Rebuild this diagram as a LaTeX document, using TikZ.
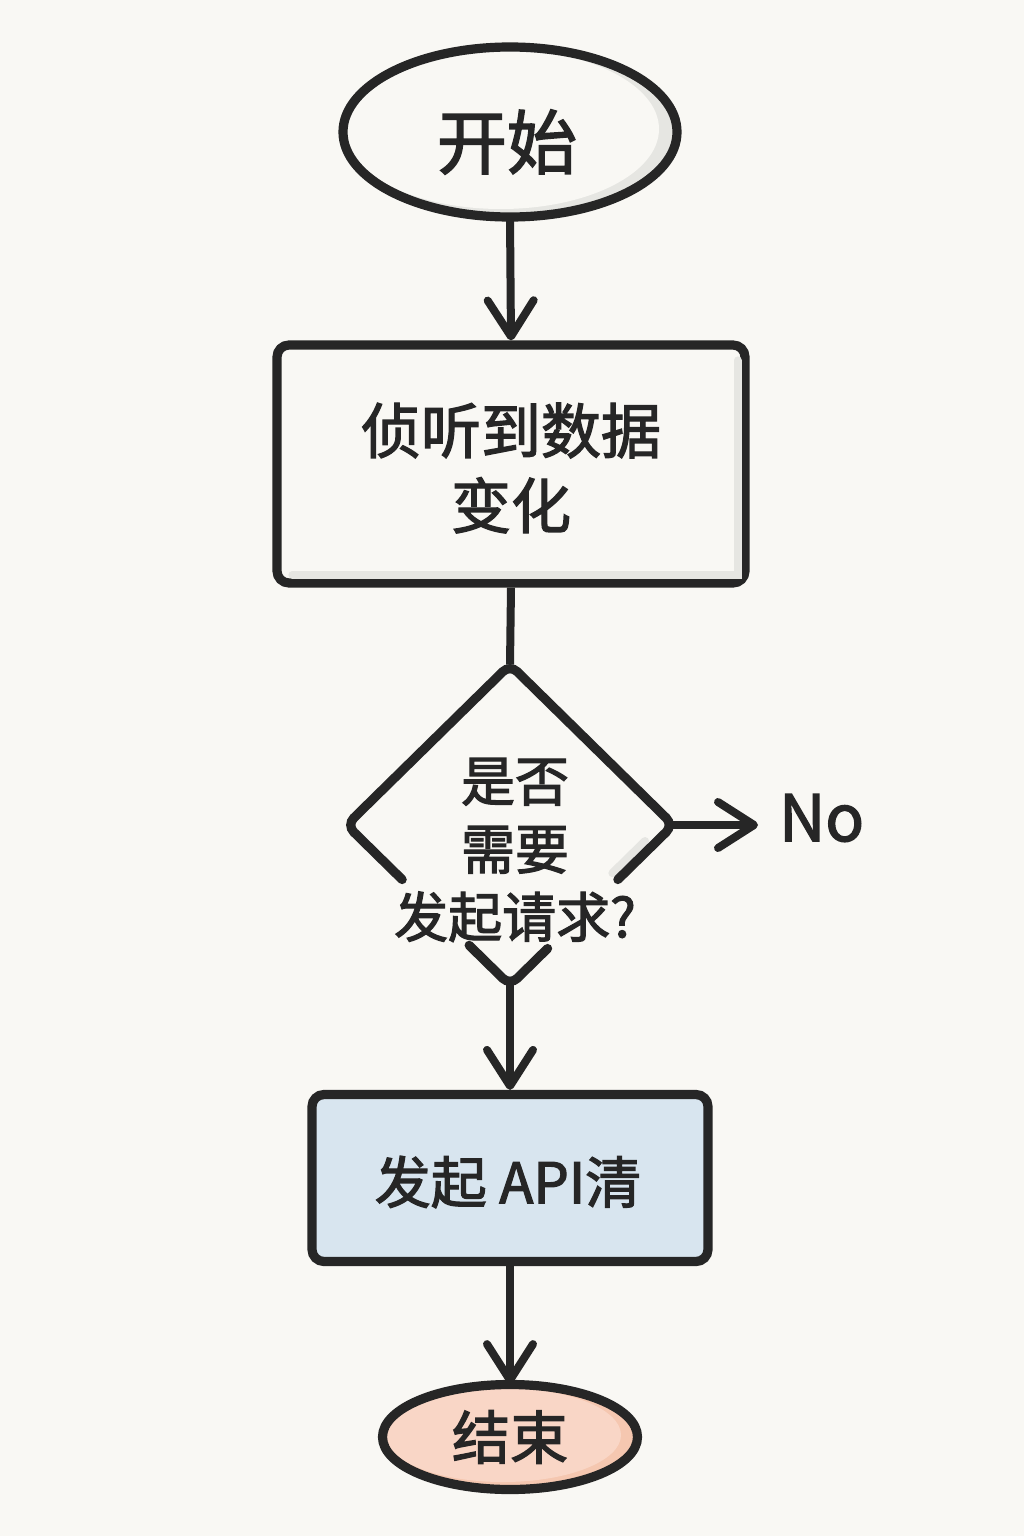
\documentclass[tikz,border=0pt]{standalone}
\usepackage{fontspec}
\newfontfamily\cjk[UprightFeatures={FakeBold=2.2}]{Noto Sans CJK SC}
\usetikzlibrary{shapes.geometric,arrows.meta,calc}
\definecolor{bgc}{HTML}{F9F8F4}
\definecolor{inkc}{HTML}{262626}
\definecolor{bluefill}{HTML}{D8E5EF}
\definecolor{peachfill}{HTML}{F9D6C6}
\definecolor{peachdark}{HTML}{F5C7B0}
\definecolor{shadowc}{HTML}{E6E6E2}
\begin{document}
\begin{tikzpicture}[x=0.5pt,y=-0.5pt,
  outline/.style={draw=inkc, line width=4.6pt},
  conn/.style={draw=inkc, line width=4pt},
  tip/.style={-{Straight Barb[length=18pt,width=23pt,round]}},
  lbl/.style={text=inkc, font=\cjk},
  shade/.style={draw=shadowc, line width=4pt, line cap=round}
]
\fill[bgc] (0,0) rectangle (1024,1536);
\useasboundingbox (0,0) rectangle (1024,1536);

% start
\node[ellipse, fill=shadowc, minimum width=167pt, minimum height=85pt, inner sep=0] (start) at (510,132) {};
\fill[bgc] ($(start.center)+(-9,-3)$) ellipse[x radius=158, y radius=80];
\draw[outline] (start.center) ellipse[x radius=167, y radius=85];
\node[lbl, font=\cjk\fontsize{35}{40}\selectfont] (starttxt) at (507,142) {开始};

% box 1
\node[rectangle, rounded corners=6pt, outline, fill=bgc, minimum width=234pt, minimum height=119pt, inner sep=0] (listen) at (511,464) {};
\draw[shade] ($(listen.north east)+(-12,20)$) -- ($(listen.south east)+(-12,-13)$) -- ($(listen.south west)+(20,-13)$);
\node[lbl, align=center, font=\cjk\fontsize{30}{37.5}\selectfont] (listentxt) at (511,468) {侦听到数据\\变化};

% decision
\node[diamond, minimum width=163pt, minimum height=160pt, inner sep=0] (dec) at (510,825) {};
\draw[shade] ($(dec.east)!0.1!(dec.south)+(-12,0)$) -- ($(dec.east)!0.3!(dec.south)+(-12,0)$);
\draw[outline, rounded corners=5pt, line cap=round]
  ($(dec.west)!0.34!(dec.south)$) -- (dec.west) -- (dec.north) -- (dec.east) -- ($(dec.east)!0.34!(dec.south)$);
\draw[outline, rounded corners=5pt, line cap=round]
  ($(dec.west)!0.75!(dec.south)$) -- (dec.south) -- ($(dec.east)!0.77!(dec.south)$);
\node[lbl, align=center, font=\cjk\fontsize{27}{34}\selectfont] (dectxt) at (515,850) {是否\\需要\\发起请求?};

% No branch
\coordinate (noend) at (758,825);
\node[lbl, anchor=west, font=\cjk\fontsize{32}{40}\selectfont] (no) at (772,818) {No};

% box 2
\node[rectangle, rounded corners=6pt, outline, fill=bluefill, minimum width=198pt, minimum height=83.5pt, inner sep=0] (api) at (510,1178) {};
\node[lbl, font=\cjk\fontsize{28}{34}\selectfont] (apitxt) at (508,1182) {发起 API清};

% end
\node[ellipse, fill=peachdark, minimum width=127.5pt, minimum height=52.5pt, inner sep=0] (stop) at (510,1437) {};
\fill[peachfill] ($(stop.center)+(-7,-2)$) ellipse[x radius=118, y radius=47];
\draw[outline] (stop.center) ellipse[x radius=127.5, y radius=52.5];
\node[lbl, font=\cjk\fontsize{29}{34}\selectfont] (stoptxt) at (510,1437) {结束};

% connectors
\draw[conn, tip] (start.south) -- (listen.north);
\draw[conn] (listen.south) -- (dec.north);
\draw[conn, tip] (dec.east) -- (noend);
\draw[conn, tip] (dec.south) -- (api.north);
\draw[conn, tip] (api.south) -- (stop.north);
\end{tikzpicture}
\end{document}
